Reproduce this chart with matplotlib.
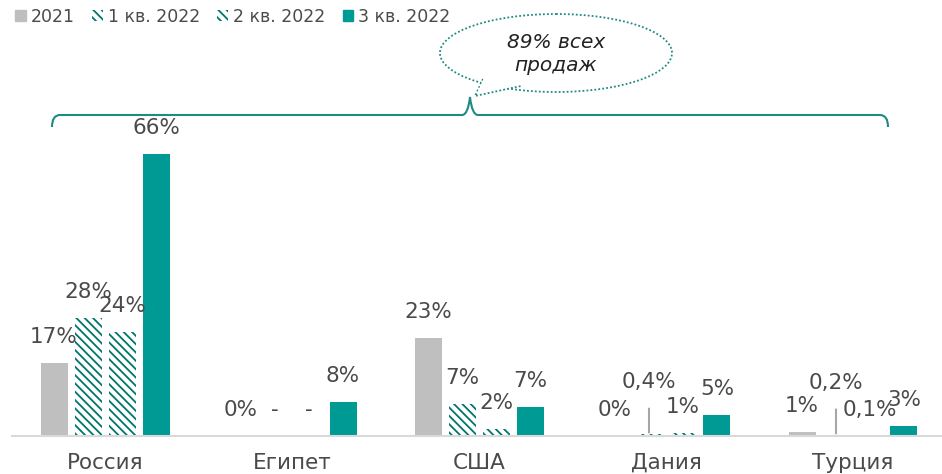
import numpy as np
import matplotlib
matplotlib.use("Agg")
import matplotlib.pyplot as plt
from matplotlib.patches import Ellipse, Polygon, Patch
from matplotlib.path import Path
from matplotlib.patches import PathPatch

categories = ['Россия', 'Египет', 'США', 'Дания', 'Турция']
series_names = ['2021', '1 кв. 2022', '2 кв. 2022', '3 кв. 2022']
v2021 = [17, 0, 23, 0, 1]
v_q1 = [27.6, np.nan, 7.5, 0.4, 0.2]
v_q2 = [24.4, np.nan, 1.7, 0.7, 0.1]
v_q3 = [66, 8, 6.8, 5, 2.4]
lab2021 = ['17%', '0%', '23%', '0%', '1%']
lab_q1 = ['28%', '-', '7%', '0,4%', '0,2%']
lab_q2 = ['24%', '-', '2%', '1%', '0,1%']
lab_q3 = ['66%', '8%', '7%', '5%', '3%']
leader_q1 = [False, False, False, True, True]

GRAY = '#BFBFBF'
TEAL = '#009A94'
HATCH = '#00756C'
TXT = '#4A4A4A'

plt.rcParams['font.family'] = ['DejaVu Sans']
plt.rcParams['hatch.linewidth'] = 1.3

W, H = 942, 474
fig = plt.figure(figsize=(W / 100, H / 100), dpi=100)
base_px = 436
ax = fig.add_axes([11.5 / W, (H - base_px) / H, 935 / W, base_px / H])
ax.set_xlim(-0.5, 4.5)
ax.set_ylim(0, base_px / 4.27)

x = np.arange(len(categories))
bw = 27 / 187
step = 34 / 187
offs = [-1.5 * step, -0.5 * step, 0.5 * step, 1.5 * step]

vals = [v2021, v_q1, v_q2, v_q3]
labs = [lab2021, lab_q1, lab_q2, lab_q3]
HP = '\\\\\\\\'
styles = [dict(color=GRAY), dict(facecolor='white', edgecolor=HATCH, hatch=HP, linewidth=0),
          dict(facecolor='white', edgecolor=HATCH, hatch=HP, linewidth=0), dict(color=TEAL)]

for k in range(4):
    v = np.nan_to_num(np.array(vals[k], dtype=float))
    ax.bar(x + offs[k], v, width=bw, **styles[k], zorder=2)
    for i in range(len(categories)):
        xi = x[i] + offs[k]
        if k == 1 and leader_q1[i]:
            ax.annotate(labs[k][i], xy=(xi, v[i] + 0.4), xytext=(0, 36.5), textcoords='offset points',
                        ha='center', va='center', fontsize=15.5, color=TXT,
                        arrowprops=dict(arrowstyle='-', color='#A6A6A6', lw=1.5, shrinkA=10, shrinkB=0))
        else:
            ax.annotate(labs[k][i], xy=(xi, v[i]), xytext=(0, 18.7), textcoords='offset points',
                        ha='center', va='center', fontsize=15.5, color=TXT)

for s in ['top', 'right', 'left']:
    ax.spines[s].set_visible(False)
ax.spines['bottom'].set_color('#D9D9D9')
ax.spines['bottom'].set_linewidth(1.5)
ax.set_yticks([])
ax.set_xticks(x)
ax.set_xticklabels(categories, fontsize=15.5, color=TXT)
ax.tick_params(axis='x', length=0, pad=12)

handles = [Patch(color=GRAY), Patch(facecolor='white', edgecolor=HATCH, hatch=HP, linewidth=0),
           Patch(facecolor='white', edgecolor=HATCH, hatch=HP, linewidth=0), Patch(color=TEAL)]
leg = fig.legend(handles, series_names, loc='upper left', bbox_to_anchor=(0.005, 1.005), ncol=4, frameon=False,
                 fontsize=12.5, handlelength=0.6, handleheight=0.6, handletextpad=0.3, columnspacing=1.0,
                 borderaxespad=0.2)
for t in leg.get_texts():
    t.set_color(TXT)

# overlay in pixel coords for brace and bubble
ov = fig.add_axes([0, 0, 1, 1], facecolor='none')
ov.set_xlim(0, W)
ov.set_ylim(H, 0)
ov.axis('off')

verts = [(52, 127), (52, 115), (60, 115), (462, 115), (468, 115), (470, 97),
         (472, 115), (478, 115), (880, 115), (888, 115), (888, 127)]
codes = [Path.MOVETO, Path.CURVE3, Path.CURVE3, Path.LINETO, Path.CURVE3, Path.CURVE3,
         Path.CURVE3, Path.CURVE3, Path.LINETO, Path.CURVE3, Path.CURVE3]
ov.add_patch(PathPatch(Path(verts, codes), facecolor='none', edgecolor='#1F8A82', lw=1.5))

ell = Ellipse((556, 53), 232, 78, facecolor='white', edgecolor='#1F8A82', lw=1.3, linestyle=(0, (1, 1.2)))
ov.add_patch(ell)
ov.add_patch(Polygon([(483, 79), (475, 96), (521, 86)], closed=False, facecolor='white',
                     edgecolor='#1F8A82', lw=1.3, linestyle=(0, (1, 1.2)), zorder=3))
ov.add_patch(Polygon([(484, 78), (477, 93), (519, 85), (520, 82)], closed=True, facecolor='white',
                     edgecolor='none', zorder=4))
ov.text(556, 42, '89% всех', ha='center', va='center', fontsize=14.5, style='italic', color='#222222', zorder=5)
ov.text(556, 65, 'продаж', ha='center', va='center', fontsize=14.5, style='italic', color='#222222', zorder=5)

fig.savefig('out.png', dpi=100)
